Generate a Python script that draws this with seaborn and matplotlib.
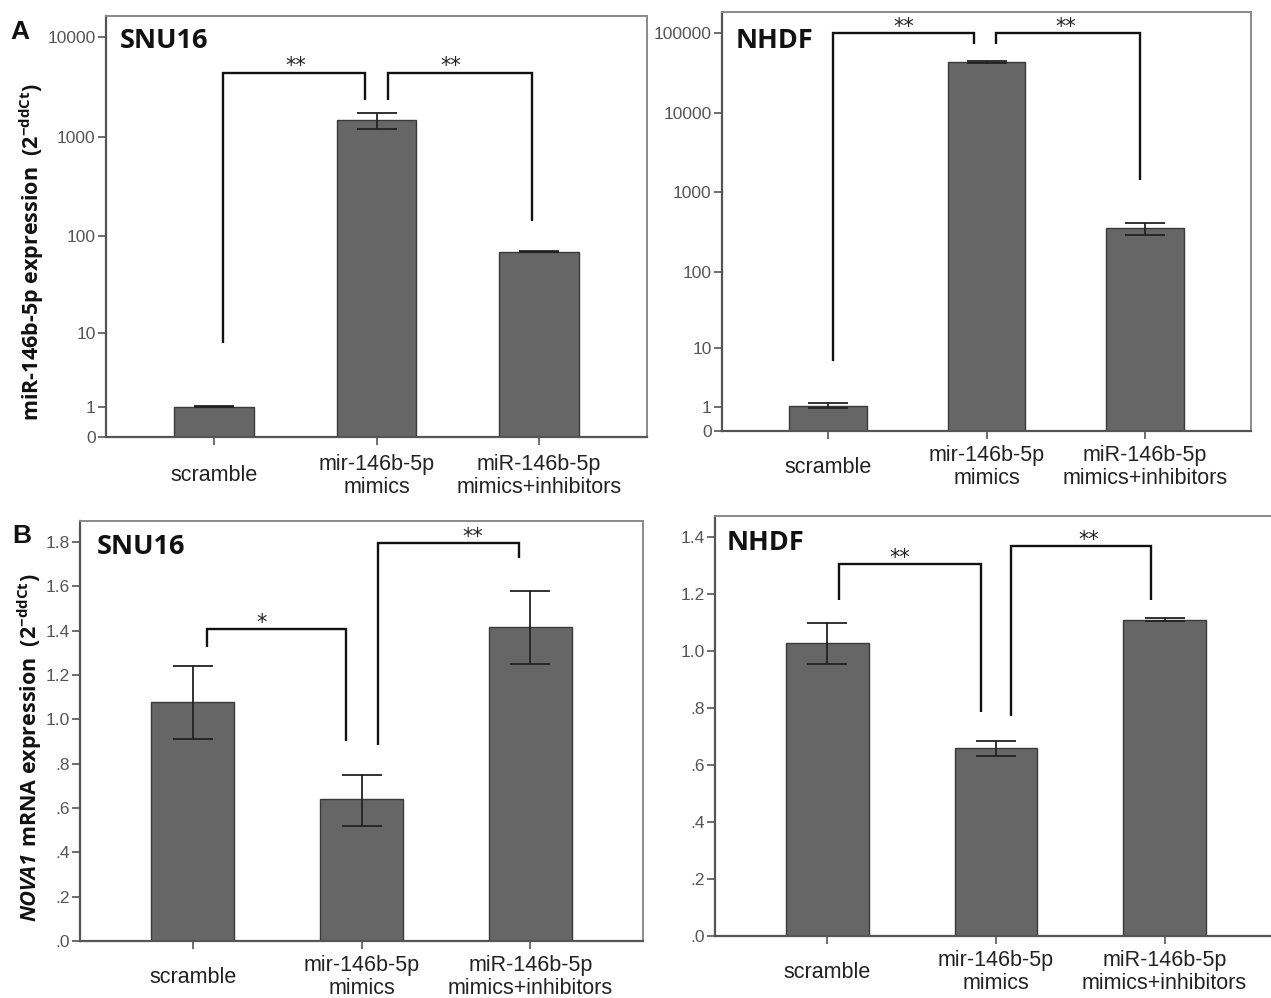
import numpy as np
import pandas as pd
import matplotlib
matplotlib.use("Agg")
import matplotlib.pyplot as plt
from matplotlib import font_manager
from matplotlib.ticker import NullLocator
import seaborn as sns

# ---- data -----------------------------------------------------------------
groups = ["scramble", "mir-146b-5p\nmimics", "miR-146b-5p\nmimics+inhibitors"]

# miR-146b-5p expression (2^-ddCt), mean and error-bar limits
snu16_mir_mean = [1.0, 1480.0, 70.0]
snu16_mir_lo = [0.98, 1200.0, 69.0]
snu16_mir_hi = [1.02, 1740.0, 71.0]

nhdf_mir_mean = [1.05, 43600.0, 355.0]
nhdf_mir_lo = [0.93, 42500.0, 293.0]
nhdf_mir_hi = [1.22, 44800.0, 415.0]

# NOVA1 mRNA expression (2^-ddCt)
snu16_nova_mean = [1.08, 0.64, 1.415]
snu16_nova_lo = [0.91, 0.52, 1.25]
snu16_nova_hi = [1.24, 0.75, 1.58]

nhdf_nova_mean = [1.03, 0.66, 1.11]
nhdf_nova_lo = [0.955, 0.632, 1.105]
nhdf_nova_hi = [1.10, 0.684, 1.115]

mir_ticks_snu16 = [0, 1, 10, 100, 1000, 10000]
mir_ticks_nhdf = [0, 1, 10, 100, 1000, 10000, 100000]
nova_ticks_snu16 = [0, 0.2, 0.4, 0.6, 0.8, 1.0, 1.2, 1.4, 1.6, 1.8]
nova_ticks_nhdf = [0, 0.2, 0.4, 0.6, 0.8, 1.0, 1.2, 1.4]

# significance brackets: (x_left, x_right, height, left_end, right_end, text_x, label)
brackets_snu16_mir = [(0.056, 0.93, 4370, 7.7, 2340, 0.50, "**"),
                      (1.07, 1.96, 4370, 2340, 144, 1.46, "**")]
brackets_nhdf_mir = [(0.03, 0.92, 100000, 6.6, 74000, 0.48, "**"),
                     (1.06, 1.97, 100000, 74000, 1440, 1.50, "**")]
brackets_snu16_nova = [(0.083, 0.91, 1.407, 1.326, 0.902, 0.41, "*"),
                       (1.095, 1.93, 1.795, 0.884, 1.728, 1.66, "**")]
brackets_nhdf_nova = [(0.07, 0.91, 1.305, 1.18, 0.786, 0.43, "**"),
                      (1.09, 1.92, 1.368, 0.772, 1.18, 1.55, "**")]

# ---- style ----------------------------------------------------------------
sns.set_theme(style="white")


def bold_family(candidates):
    for fam in candidates:
        for f in font_manager.fontManager.ttflist:
            w = f.weight
            if isinstance(w, str):
                w = font_manager.weight_dict.get(w, 400)
            if f.name == fam and w >= 600 and f.style == "normal":
                return fam
    return "DejaVu Sans"


HEAD = bold_family(["Noto Sans", "Open Sans", "Lato", "Roboto", "Inter"])

plt.rcParams["font.family"] = ["Liberation Sans", "DejaVu Sans"]
plt.rcParams["mathtext.fontset"] = "custom"
plt.rcParams["mathtext.default"] = "regular"

W, H = 1271, 998
fig = plt.figure(figsize=(W / 100, H / 100), dpi=100)
fig.patch.set_facecolor("white")


def rect(left, top, right, bottom):
    return [left / W, 1 - bottom / H, (right - left) / W, (bottom - top) / H]


def fpos(x, y):
    return x / W, 1 - y / H


def log1p_fwd(y):
    return np.log10(np.clip(y, -0.999, None) + 1)


def log1p_inv(y):
    return 10 ** y - 1


BAR = "#666666"
EDGE = "#3a3a3a"


def panel(r, mean, lo, hi, ticks, ticklabels, ymax, brackets, logscale, pad):
    ax = fig.add_axes(r)
    df = pd.DataFrame({"group": groups, "value": mean})
    sns.barplot(data=df, x="group", y="value", color=BAR, width=0.49,
                edgecolor=EDGE, linewidth=1.0, saturation=1, errorbar=None, ax=ax)
    for p in ax.patches:
        p.set_facecolor(BAR)
    m = np.array(mean)
    yerr = [m - np.array(lo), np.array(hi) - m]
    ax.errorbar(np.arange(len(groups)), m, yerr=yerr, fmt="none",
                ecolor="#222222", elinewidth=1.3, capsize=14.5, capthick=1.3, zorder=5)
    if logscale:
        ax.set_yscale("function", functions=(log1p_fwd, log1p_inv))
    ax.set_xlim(-0.667, 2.667)
    ax.set_ylim(0, ymax)
    ax.set_yticks(ticks)
    ax.set_yticklabels(ticklabels)
    ax.yaxis.set_minor_locator(NullLocator())
    ax.set_xlabel("")
    ax.set_ylabel("")
    ax.tick_params(axis="y", direction="out", length=6, width=1.2, color="#555555",
                   labelsize=12.5, labelcolor="#555555", pad=1.5, left=True)
    ax.tick_params(axis="x", direction="out", length=6, width=1.2, color="#555555",
                   labelsize=15.5, labelcolor="#222222", pad=pad, bottom=True)
    ax.set_xticks(range(len(groups)))
    ax.set_xticklabels(groups, linespacing=1.12)
    for lab in ax.get_xticklabels():
        lab.set_verticalalignment("center")
    for side in ["left", "bottom"]:
        ax.spines[side].set_color("#555555")
        ax.spines[side].set_linewidth(1.6)
    for side in ["top", "right"]:
        ax.spines[side].set_color("#8a8a8a")
        ax.spines[side].set_linewidth(1.4)
    for x1, x2, h, e1, e2, tx, lab in brackets:
        ax.plot([x1, x1, x2, x2], [e1, h, h, e2], color="#111111", lw=1.7,
                solid_capstyle="butt", solid_joinstyle="miter", zorder=6)
        ax.annotate(lab, xy=(tx, h), xytext=(0, 4.5), textcoords="offset points",
                    ha="center", va="center", fontsize=15, color="#222222",
                    family=["DejaVu Sans"])
    return ax


# top row: miR-146b-5p
panel(rect(106, 16, 647, 437), snu16_mir_mean, snu16_mir_lo, snu16_mir_hi,
      mir_ticks_snu16, [str(t) for t in mir_ticks_snu16], log1p_inv(4.207),
      brackets_snu16_mir, True, 22)
panel(rect(722, 12, 1251, 431), nhdf_mir_mean, nhdf_mir_lo, nhdf_mir_hi,
      mir_ticks_nhdf, [str(t) for t in mir_ticks_nhdf], log1p_inv(5.27),
      brackets_nhdf_mir, True, 20)


def spss(v):
    s = f"{v:.1f}"
    return s[1:] if s.startswith("0") else s


# bottom row: NOVA1
panel(rect(80, 521, 643, 941), snu16_nova_mean, snu16_nova_lo, snu16_nova_hi,
      nova_ticks_snu16, [spss(t) for t in nova_ticks_snu16], 1.894,
      brackets_snu16_nova, False, 20)
panel(rect(715, 516, 1277, 936), nhdf_nova_mean, nhdf_nova_lo, nhdf_nova_hi,
      nova_ticks_nhdf, [spss(t) for t in nova_ticks_nhdf], 1.474,
      brackets_nhdf_nova, False, 20)

# panel letters and cell-line titles
title_kw = dict(fontsize=19.5, fontweight="bold", color="#111111",
                family=[HEAD, "DejaVu Sans"], va="center", ha="left")
fig.text(*fpos(120, 41), "SNU16", **title_kw)
fig.text(*fpos(736, 41), "NHDF", **title_kw)
fig.text(*fpos(97, 547), "SNU16", **title_kw)
fig.text(*fpos(727, 543), "NHDF", **title_kw)

letter_kw = dict(fontsize=19, fontweight="bold", color="#111111",
                 family=["Liberation Sans", "DejaVu Sans"], va="center", ha="left")
fig.text(*fpos(10, 32), "A", **letter_kw)
fig.text(*fpos(12, 536), "B", **letter_kw)

# y-axis labels
ylab_kw = dict(fontsize=15.5, fontweight="bold", color="#111111", rotation=90,
               family=[HEAD, "DejaVu Sans"], ha="center")
fig.text(*fpos(32, 252), r"miR-146b-5p expression  (2$^{-ddCt}$)", va="center", **ylab_kw)

# gene name in italics, followed by the rest of the label
gene = fig.text(*fpos(30, 921), "NOVA1", va="bottom", style="italic", **ylab_kw)
fig.canvas.draw()
gene_h = gene.get_window_extent().height
fig.text(*fpos(30, 921 - gene_h - 5), r"mRNA expression  (2$^{-ddCt}$)",
         va="bottom", **ylab_kw)

fig.savefig("out.png", dpi=100, facecolor="white")
